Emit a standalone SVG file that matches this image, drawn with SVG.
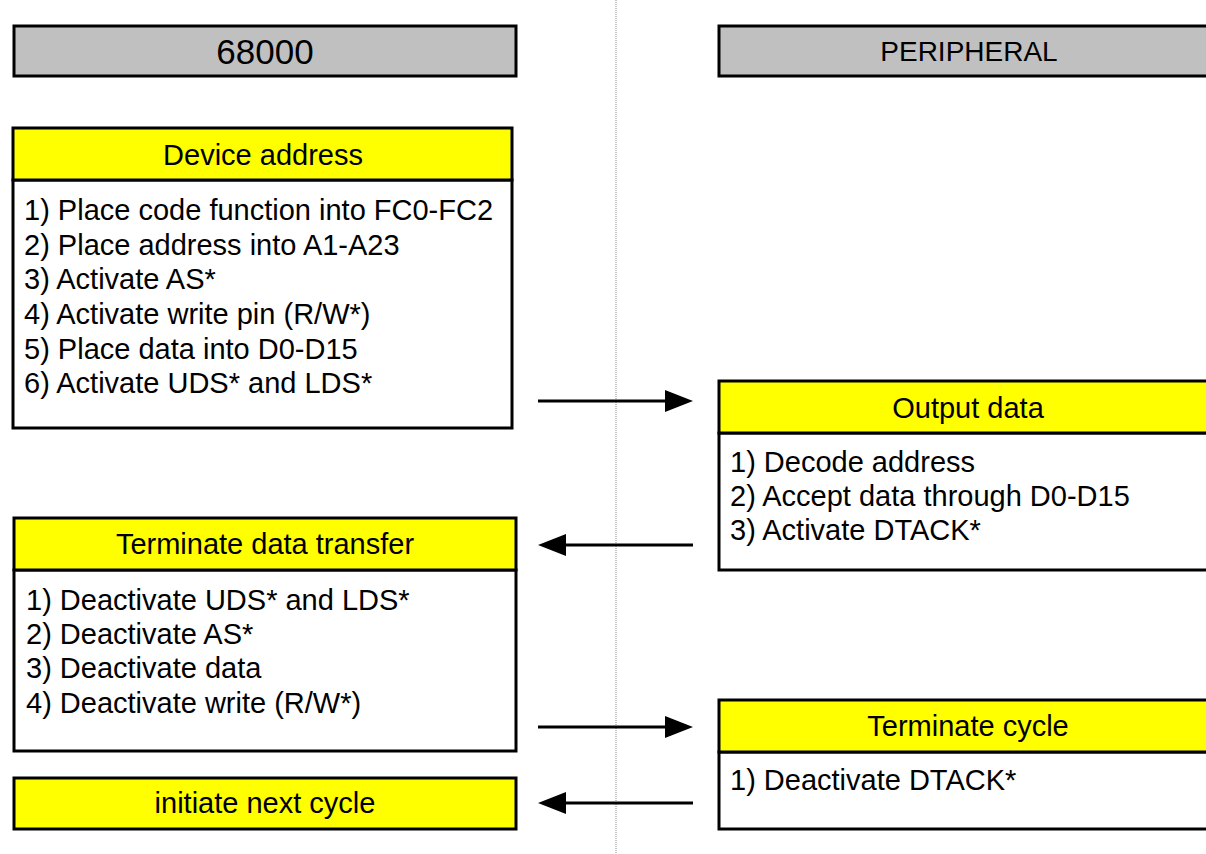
<svg xmlns="http://www.w3.org/2000/svg" width="1206" height="854" viewBox="0 0 1206 854">
<style>
.box{stroke:#000;stroke-width:3;}
.gray{fill:#c0c0c0;}
.yel{fill:#ffff00;}
.wht{fill:#fff;}
text{font-family:"Liberation Sans",Arial,sans-serif;fill:#000;}
.h{font-size:29px;text-anchor:middle;}
.b{font-size:29px;}
.conn line{stroke:#000;stroke-width:3;}
.conn polygon{fill:#000;}
</style>
<rect width="1206" height="854" fill="#fff"/>
<line x1="616" y1="0" x2="616" y2="854" stroke="#888" stroke-width="1" stroke-dasharray="1,1"/>
<g id="cpu-title">
<rect class="box gray" x="14" y="26" width="502" height="50"/>
<text class="h" x="265" y="64" style="font-size:35px">68000</text>
</g>
<g id="peripheral-title">
<rect class="box gray" x="719" y="26" width="500" height="50"/>
<text class="h" x="969" y="61" style="font-size:28px">PERIPHERAL</text>
</g>
<g id="device-address">
<rect class="box wht" x="13" y="180" width="499" height="248"/>
<rect class="box yel" x="13" y="128" width="499" height="52"/>
<text class="h" x="263" y="165">Device address</text>
<text class="b" x="24" y="220">1) Place code function into FC0-FC2</text>
<text class="b" x="24" y="255">2) Place address into A1-A23</text>
<text class="b" x="24" y="289">3) Activate AS*</text>
<text class="b" x="24" y="324">4) Activate write pin (R/W*)</text>
<text class="b" x="24" y="359">5) Place data into D0-D15</text>
<text class="b" x="24" y="393">6) Activate UDS* and LDS*</text>
</g>
<g id="output-data">
<rect class="box wht" x="719" y="433" width="500" height="137"/>
<rect class="box yel" x="719" y="381" width="500" height="52"/>
<text class="h" x="968" y="418">Output data</text>
<text class="b" x="730" y="472">1) Decode address</text>
<text class="b" x="730" y="506">2) Accept data through D0-D15</text>
<text class="b" x="730" y="540">3) Activate DTACK*</text>
</g>
<g id="terminate-data-transfer">
<rect class="box wht" x="14" y="570" width="502" height="181"/>
<rect class="box yel" x="14" y="518" width="502" height="52"/>
<text class="h" x="265" y="554">Terminate data transfer</text>
<text class="b" x="26" y="610">1) Deactivate UDS* and LDS*</text>
<text class="b" x="26" y="644">2) Deactivate AS*</text>
<text class="b" x="26" y="678">3) Deactivate data</text>
<text class="b" x="26" y="713">4) Deactivate write (R/W*)</text>
</g>
<g id="terminate-cycle">
<rect class="box wht" x="719" y="752" width="500" height="77"/>
<rect class="box yel" x="719" y="700" width="500" height="52"/>
<text class="h" x="968" y="736">Terminate cycle</text>
<text class="b" x="730" y="790">1) Deactivate DTACK*</text>
</g>
<g id="initiate-next-cycle">
<rect class="box yel" x="14" y="778" width="502" height="51"/>
<text class="h" x="265" y="813">initiate next cycle</text>
</g>
<g id="connectors" class="conn">
<line x1="538" y1="401" x2="667" y2="401"/>
<polygon points="665,390 693,401 665,412"/>
<line x1="693" y1="545" x2="564" y2="545"/>
<polygon points="566,534 538,545 566,556"/>
<line x1="538" y1="727" x2="667" y2="727"/>
<polygon points="665,716 693,727 665,738"/>
<line x1="693" y1="803" x2="564" y2="803"/>
<polygon points="566,792 538,803 566,814"/>
</g>
</svg>
